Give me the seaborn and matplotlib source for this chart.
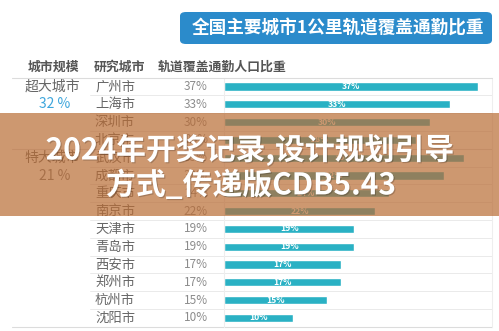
import matplotlib
matplotlib.use("Agg")
import matplotlib.pyplot as plt
import seaborn as sns
import pandas as pd
import matplotlib.patheffects as pe
from matplotlib.patches import FancyBboxPatch, Rectangle
from matplotlib.transforms import blended_transform_factory

# ---- data ----
cities = ["广州市", "上海市", "深圳市", "北京市", "武汉市", "成都市", "重庆市",
          "南京市", "天津市", "青岛市", "西安市", "郑州市", "杭州市", "沈阳市"]
shares = [37, 33, 30, 28, 35, 32, 24, 22, 19, 19, 17, 17, 15, 10]
group_names = ["超大城市", "特大城市"]
group_avgs = ["32 %", "21 %"]
group_first_row = [0, 4]
headers = ["城市规模", "研究城市", "轨道覆盖通勤人口比重"]
title = "全国主要城市1公里轨道覆盖通勤比重"
overlay_lines = ["2024年开奖记录,设计规划引导", "方式_传递版CDB5.43"]

sns.set_style("white")
plt.rcParams['font.family'] = ['Noto Sans CJK SC', 'DejaVu Sans']

W, H = 499, 331
fig = plt.figure(figsize=(W / 100, H / 100), dpi=100)
fig.patch.set_facecolor("white")

def fx(x):
    return x / W

def fy(y):
    return 1 - y / H

# layout (pixels)
bar_left, bar_right = 224, 492
row0, row_h = 86.5, 17.8
n = len(cities)
ax_top = row0 - row_h / 2
ax_bot = ax_top + n * row_h
px_per_pct = 6.86

ax = fig.add_axes([fx(bar_left), fy(ax_bot), (bar_right - bar_left) / W, (ax_bot - ax_top) / H])
df = pd.DataFrame({"city": cities, "share": shares})
sns.barplot(data=df, y="city", x="share", color="#2ab1c4", saturation=1,
            width=0.46, orient="h", ax=ax)
ax.set_xlim(0, (bar_right - bar_left) / px_per_pct)
ax.set_ylim(n - 0.5, -0.5)
ax.set_xticks([])
ax.set_yticks([])
ax.set_xlabel("")
ax.set_ylabel("")
for s in ["top", "bottom"]:
    ax.spines[s].set_visible(False)
for s in ["left", "right"]:
    ax.spines[s].set_color("#eeeeee")
    ax.spines[s].set_linewidth(0.8)

ax.bar_label(ax.containers[0], labels=[f"{v}%" for v in shares], label_type="center",
             color="white", fontsize=6.2, fontweight="bold")

trans = blended_transform_factory(fig.transFigure, ax.transData)

# city names and percentages
for i, (c, v) in enumerate(zip(cities, shares)):
    ax.text(fx(95), i, c, transform=trans, ha="left", va="center",
            fontsize=9.6, color="#666666")
    ax.text(fx(208), i, f"{v}%", transform=trans, ha="right", va="center",
            fontsize=8.5, color="#8c8c8c")

# row separators
for i in range(n - 1):
    b = i + 0.5
    if b == 3.5:
        ax.plot([fx(12), fx(bar_right)], [b, b], transform=trans, color="#dcdcdc",
                lw=0.8, clip_on=False)
    else:
        ax.plot([fx(90), fx(bar_right)], [b, b], transform=trans, color="#eaeaea",
                lw=0.7, clip_on=False)
ax.plot([fx(12), fx(bar_right)], [n - 0.5, n - 0.5], transform=trans, color="#dcdcdc",
        lw=0.8, clip_on=False)

# group labels
for name, avg, r in zip(group_names, group_avgs, group_first_row):
    ax.text(fx(52), r, name, transform=trans, ha="center", va="center",
            fontsize=10, color="#666666")
    ax.text(fx(55), r + 1, avg, transform=trans, ha="center", va="center",
            fontsize=10, color="#3ea6dc" if r == 0 else "#7a7a7a")

# header
fig.text(fx(53), fy(67), headers[0], ha="center", va="center", fontsize=9.3,
         color="#555555", fontweight="bold")
fig.text(fx(94), fy(67), headers[1], ha="left", va="center", fontsize=9.3,
         color="#555555", fontweight="bold")
fig.text(fx(158), fy(67), headers[2], ha="left", va="center", fontsize=9.3,
         color="#555555", fontweight="bold")
fig.add_artist(plt.Line2D([fx(12), fx(bar_right)], [fy(ax_top), fy(ax_top)],
                          transform=fig.transFigure, color="#dcdcdc", lw=0.8))

# title box
box = FancyBboxPatch((fx(180), fy(44)), 312 / W, 32 / H,
                     boxstyle="round,pad=0,rounding_size=0.012",
                     transform=fig.transFigure, facecolor="#2b8bcb",
                     edgecolor="none", zorder=2)
fig.add_artist(box)
fig.text(fx(338), fy(28), title, ha="center", va="center", fontsize=12.7,
         color="white", fontweight="bold", zorder=3)

# overlay band
band = Rectangle((0, fy(216)), 1, (216 - 113) / H, transform=fig.transFigure,
                 facecolor=(185 / 255, 108 / 255, 52 / 255), alpha=0.7,
                 edgecolor="none", zorder=10)
fig.add_artist(band)
shadow = [pe.withSimplePatchShadow(offset=(0.8, -0.8), shadow_rgbFace="black", alpha=0.2)]
fig.text(fx(250), fy(150), overlay_lines[0], ha="center", va="center",
         fontsize=21.5, color="white", fontweight="bold", zorder=11,
         path_effects=shadow)
fig.text(fx(251), fy(185), overlay_lines[1], ha="center", va="center",
         fontsize=21.5, color="white", fontweight="bold", zorder=11,
         path_effects=shadow)

fig.savefig("out.png", dpi=100)
